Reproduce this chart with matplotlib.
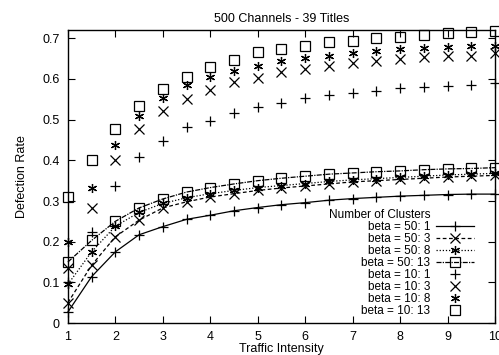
import numpy as np
import matplotlib
matplotlib.use("Agg")
import matplotlib.pyplot as plt
from matplotlib.lines import Line2D

plt.rcParams["font.family"] = ["Liberation Sans", "DejaVu Sans"]
plt.rcParams["font.size"] = 9

# === Data ===
traffic = [1, 1.5, 2, 2.5, 3, 3.5, 4, 4.5, 5, 5.5, 6, 6.5, 7, 7.5, 8, 8.5, 9, 9.5, 10]

b50_c1 = [0.027, 0.114, 0.175, 0.217, 0.237, 0.255, 0.265, 0.276, 0.284, 0.291,
          0.296, 0.302, 0.306, 0.309, 0.312, 0.314, 0.316, 0.317, 0.317]
b50_c3 = [0.050, 0.142, 0.212, 0.253, 0.283, 0.298, 0.310, 0.318, 0.326, 0.332,
          0.337, 0.342, 0.347, 0.350, 0.353, 0.356, 0.359, 0.361, 0.363]
b50_c8 = [0.095, 0.175, 0.238, 0.272, 0.294, 0.308, 0.318, 0.326, 0.333, 0.338,
          0.343, 0.348, 0.352, 0.355, 0.358, 0.361, 0.364, 0.366, 0.368]
b50_c13 = [0.150, 0.203, 0.250, 0.283, 0.305, 0.322, 0.333, 0.342, 0.350, 0.356,
           0.361, 0.366, 0.369, 0.372, 0.374, 0.377, 0.379, 0.380, 0.382]

b10_c1 = [0.100, 0.225, 0.336, 0.407, 0.447, 0.481, 0.497, 0.516, 0.531, 0.541,
          0.553, 0.560, 0.565, 0.570, 0.578, 0.580, 0.583, 0.585, 0.590]
b10_c3 = [0.135, 0.284, 0.400, 0.477, 0.521, 0.550, 0.573, 0.592, 0.602, 0.617,
          0.625, 0.632, 0.640, 0.644, 0.649, 0.654, 0.657, 0.657, 0.665]
b10_c8 = [0.200, 0.333, 0.437, 0.509, 0.553, 0.585, 0.605, 0.620, 0.632, 0.644,
          0.652, 0.657, 0.665, 0.668, 0.674, 0.676, 0.678, 0.681, 0.680]
b10_c13 = [0.310, 0.400, 0.477, 0.533, 0.575, 0.605, 0.630, 0.647, 0.667, 0.674,
           0.681, 0.691, 0.694, 0.700, 0.704, 0.709, 0.714, 0.716, 0.718]

x_ticks = [1, 2, 3, 4, 5, 6, 7, 8, 9, 10]
y_ticks = [0, 0.1, 0.2, 0.3, 0.4, 0.5, 0.6, 0.7]
y_tick_labels = ["0", "0.1", "0.2", "0.3", "0.4", "0.5", "0.6", "0.7"]

# === Figure ===
fig = plt.figure(figsize=(4.99, 3.55), dpi=100)
ax = fig.add_axes([0.136, 0.09, 0.856, 0.825])

star = (6, 2, 0)
lines_50 = [
    (b50_c1, "+", "-", "beta = 50: 1"),
    (b50_c3, "x", (0, (3, 2)), "beta = 50: 3"),
    (b50_c8, star, (0, (1, 1.5)), "beta = 50: 8"),
    (b50_c13, "s", (0, (4, 1, 1, 1)), "beta = 50: 13"),
]
points_10 = [
    (b10_c1, "+", "beta = 10: 1"),
    (b10_c3, "x", "beta = 10: 3"),
    (b10_c8, star, "beta = 10: 8"),
    (b10_c13, "s", "beta = 10: 13"),
]

# first legend row is the key title, right-aligned like the entries
handles = [Line2D([], [], linestyle="none")]
labels = ["Number of Clusters"]

for vals, mk, ls, lab in lines_50:
    h, = ax.plot(traffic, vals, color="black", linestyle=ls, linewidth=0.9,
                 marker=mk, markersize=6.5, markerfacecolor="none",
                 markeredgewidth=0.9, clip_on=False, zorder=3)
    handles.append(h)
    labels.append(lab)

for vals, mk, lab in points_10:
    h, = ax.plot(traffic, vals, color="black", linestyle="none",
                 marker=mk, markersize=6.5, markerfacecolor="none",
                 markeredgewidth=0.9, clip_on=False, zorder=3)
    handles.append(h)
    labels.append(lab)

ax.set_xlim(1, 10)
ax.set_ylim(0, 0.72)
ax.set_xticks(x_ticks)
ax.set_yticks(y_ticks)
ax.set_yticklabels(y_tick_labels)
ax.tick_params(direction="in", top=True, right=True, length=5, width=0.8, pad=6)
for s in ax.spines.values():
    s.set_linewidth(1.0)

ax.set_title("500 Channels - 39 Titles", fontsize=9, pad=6)
ax.set_xlabel("Traffic Intensity", labelpad=0)
ax.set_ylabel("Defection Rate", labelpad=10)

ax.legend(handles, labels, loc="lower right", bbox_to_anchor=(0.965, 0.0),
          frameon=False, markerfirst=False, fontsize=8.5, borderpad=0,
          labelspacing=0.0, handlelength=3.2, handletextpad=0.5)

fig.savefig("out.png", dpi=100)
